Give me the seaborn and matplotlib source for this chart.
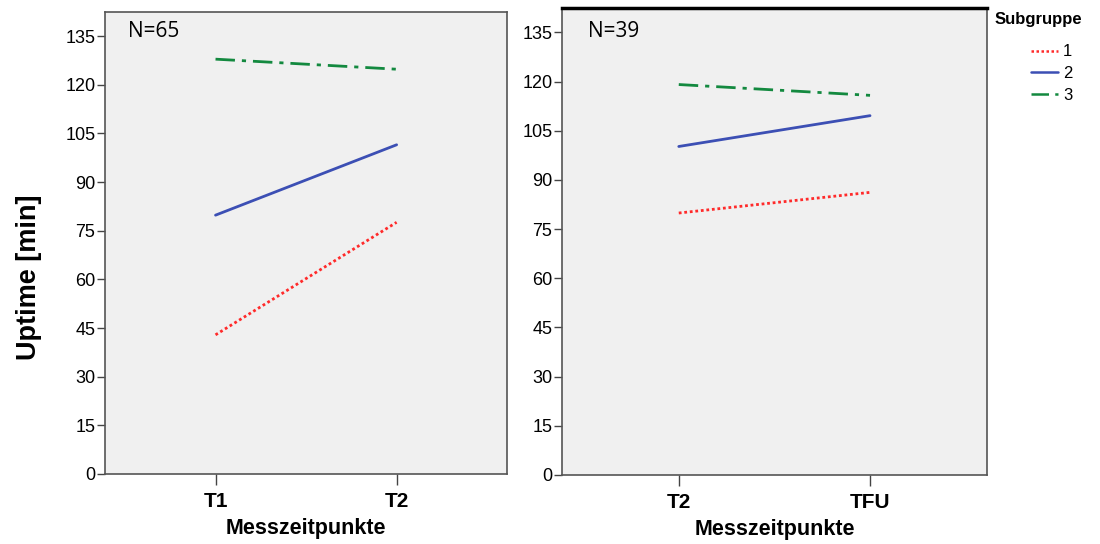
import pandas as pd
import matplotlib.pyplot as plt
import seaborn as sns
from matplotlib.lines import Line2D

sns.set_theme(style="white")
plt.rcParams['font.family'] = ['Liberation Sans', 'DejaVu Sans']
plt.rcParams['text.color'] = 'black'
plt.rcParams['axes.labelcolor'] = 'black'
plt.rcParams['xtick.color'] = 'black'
plt.rcParams['ytick.color'] = 'black'

# Daten
gruppen = ['1', '2', '3']
zeit_links = ['T1', 'T2']
werte_links = {'1': [42.9, 77.6], '2': [79.8, 101.5], '3': [127.9, 124.8]}
zeit_rechts = ['T2', 'TFU']
werte_rechts = {'1': [79.9, 86.2], '2': [100.2, 109.6], '3': [119.1, 115.8]}
n_links = 'N=65'
n_rechts = 'N=39'
y_ticks = list(range(0, 136, 15))

farben = {'1': '#ff2a2a', '2': '#3c4fb4', '3': '#13893f'}
striche = {'1': (1, 1), '2': '', '3': (7, 2.5, 1.5, 2.5)}


def long_df(zeiten, werte):
    rows = []
    for g in gruppen:
        for i, z in enumerate(zeiten):
            rows.append({'zeit': i, 'label': z, 'Subgruppe': g, 'uptime': werte[g][i]})
    return pd.DataFrame(rows)


df_l = long_df(zeit_links, werte_links)
df_r = long_df(zeit_rechts, werte_rechts)

fig = plt.figure(figsize=(11, 5.44), dpi=100)
ax1 = fig.add_axes([0.0955, 0.1287, 0.3655, 0.849])
ax2 = fig.add_axes([0.511, 0.127, 0.386, 0.858])

panels = [(ax1, df_l, zeit_links, n_links, 0.057, 0.959),
          (ax2, df_r, zeit_rechts, n_rechts, 0.061, 0.951)]
for ax, df, zeiten, ntext, nx, ny in panels:
    sns.lineplot(data=df, x='zeit', y='uptime', hue='Subgruppe', style='Subgruppe',
                 palette=farben, dashes=striche, linewidth=2, ax=ax, legend=False)
    ax.set_facecolor('#f0f0f0')
    ax.set_xlim(-0.61, 1.61)
    ax.set_ylim(0, 142.4)
    ax.set_xticks(range(len(zeiten)))
    ax.set_xticklabels(zeiten, fontsize=15, fontweight='bold')
    ax.set_yticks(y_ticks)
    ax.set_yticklabels([str(t) for t in y_ticks], fontsize=13)
    ax.tick_params(axis='y', length=6, width=1, color='#444444', pad=1, left=True)
    ax.tick_params(axis='x', length=8, width=1, color='#444444', pad=5, bottom=True)
    ax.set_xlabel('Messzeitpunkte', fontsize=15.5, fontweight='bold', labelpad=5)
    ax.set_ylabel('')
    for s in ax.spines.values():
        s.set_color('#555555')
        s.set_linewidth(1.2)
    ax.text(nx, ny, ntext, transform=ax.transAxes, fontsize=15,
            family=['Open Sans', 'DejaVu Sans'], va='center', ha='left')

ax2.spines['top'].set_color('black')
ax2.spines['top'].set_linewidth(2.5)

fig.text(0.026, 0.491, 'Uptime [min]', rotation=90, fontsize=19.5, fontweight='bold',
         ha='center', va='center')

# Legende
fig.text(0.9045, 0.965, 'Subgruppe', fontsize=12, fontweight='bold', ha='left', va='center')
handles = [Line2D([0], [0], color=farben[g], linewidth=1.8,
                  dashes=striche[g] if striche[g] else (None, None)) for g in gruppen]
fig.legend(handles, gruppen, loc='upper left', bbox_to_anchor=(0.924, 0.946),
           frameon=False, fontsize=12, handlelength=1.6, handletextpad=0.3,
           labelspacing=0.4)

plt.savefig('out.png', dpi=100)
